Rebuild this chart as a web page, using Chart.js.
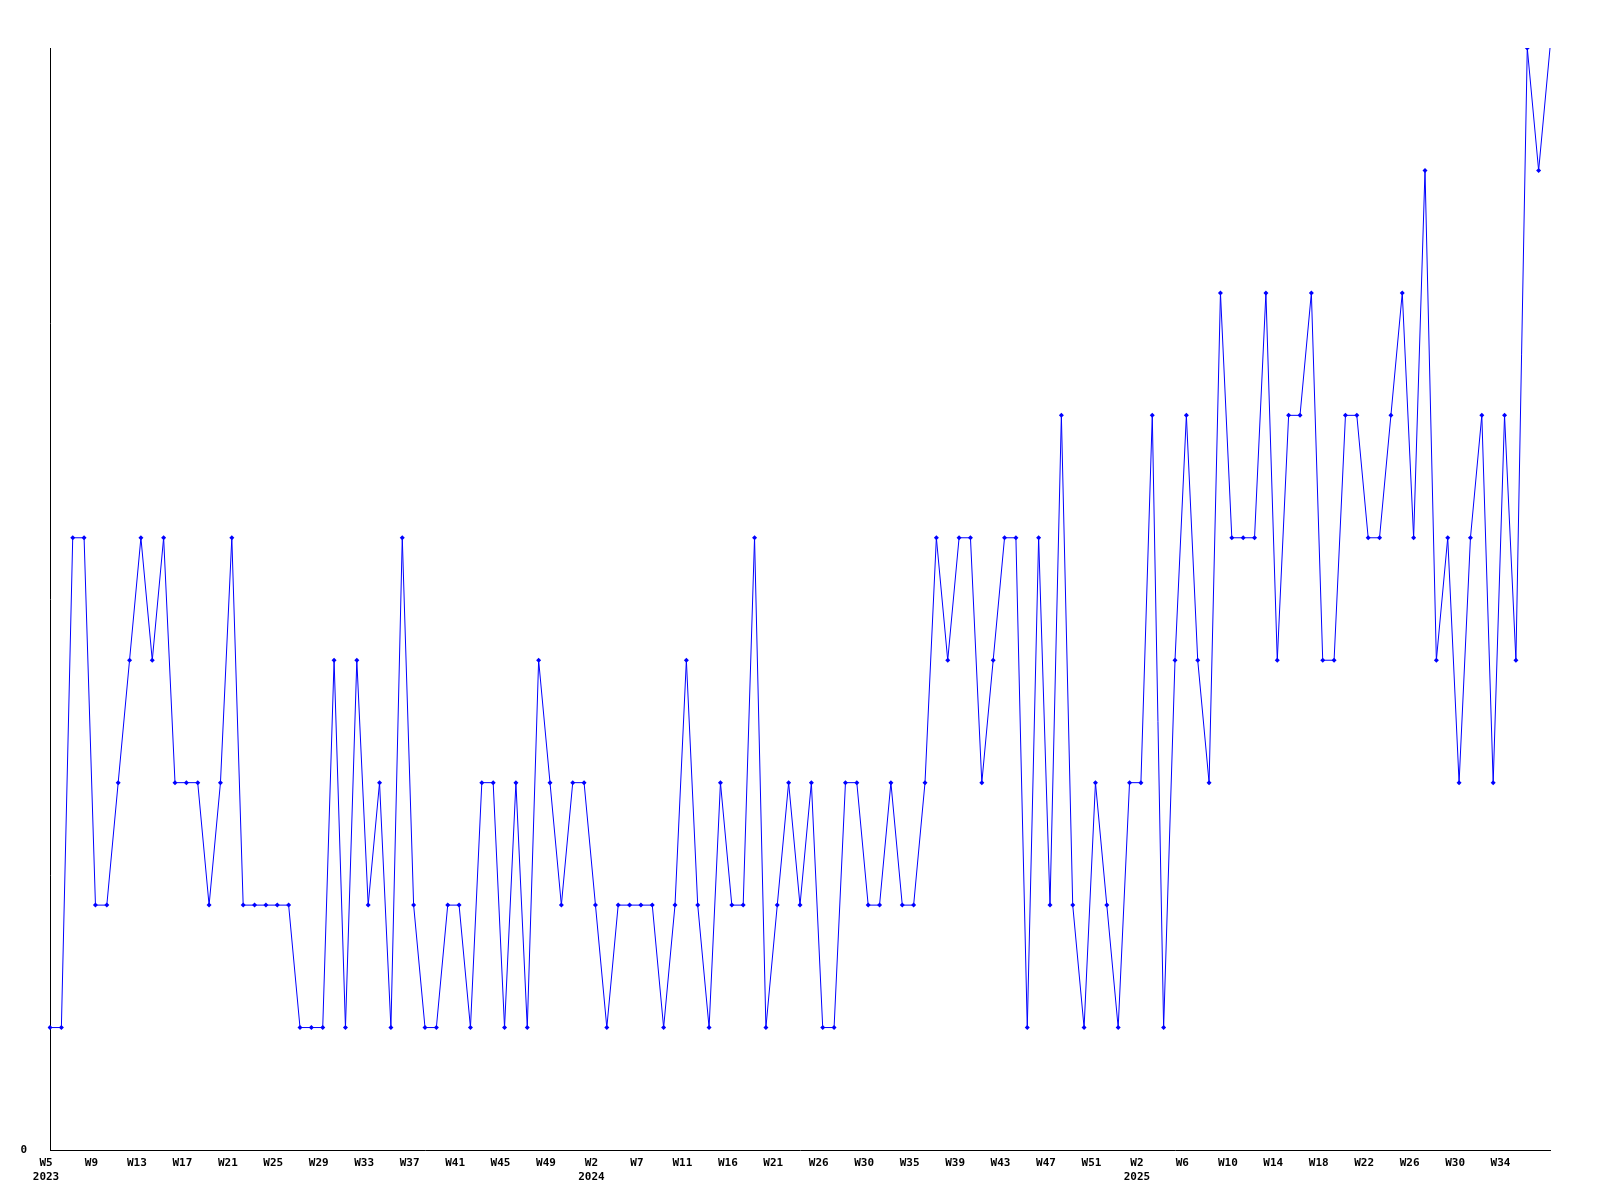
<!DOCTYPE html>
<html>
<head>
<meta charset="utf-8">
<script src="https://cdn.jsdelivr.net/npm/chart.js@4.4.1/dist/chart.umd.min.js"></script>
<style>
    body { margin: 0; background: #ffffff; }
    #wrap { width: 1600px; height: 1200px; }
</style>
</head>
<body>
<div id="wrap"><canvas id="weekChart"></canvas></div>
<script>
// one value per sample, 2023 W5 .. 2025 W36
var values = [
    1, 1, 5, 5, 2, 2, 3, 4, 5, 4, 5, 3, 3, 3, 2, 3, 5, 2, 2, 2, 2, 2, 1, 1, 1, 4, 1, 4, 2, 3, 1, 5, 2, 1, 1, 2,
    2, 1, 3, 3, 1, 3, 1, 4, 3, 2, 3, 3, 2, 1, 2, 2, 2, 2, 1, 2, 4, 2, 1, 3, 2, 2, 5, 1, 2, 3, 2, 3, 1, 1,
    3, 3, 2, 2, 3, 2, 2, 3, 5, 4, 5, 5, 3, 4, 5, 5, 1, 5, 2, 6, 2, 1, 3, 2, 1, 3, 3, 6, 1, 4, 6, 4, 3,
    7, 5, 5, 5, 7, 4, 6, 6, 7, 4, 4, 6, 6, 5, 5, 6, 7, 5, 8, 4, 5, 3, 5, 6, 3, 6, 4, 9, 8, 9
];

// a label is printed under every 4th sample
var tickLabels = ['W5', 'W9', 'W13', 'W17', 'W21', 'W25', 'W29', 'W33', 'W37', 'W41', 'W45', 'W49',
    'W2', 'W7', 'W11', 'W16', 'W21', 'W26', 'W30', 'W35', 'W39', 'W43', 'W47', 'W51',
    'W2', 'W6', 'W10', 'W14', 'W18', 'W22', 'W26', 'W30', 'W34'];
var yearAt = [0, 12, 24];
var years = ['2023', '2024', '2025'];
var tickEvery = 4;

var yMin = 0;
var yMax = 9;

// sample numbers as categories (empty strings broke the last point)
var categories = values.map((v, i) => i);

tickText = (index) => {
    if (index % tickEvery !== 0) return null;
    let k = index / tickEvery;
    let y = yearAt.indexOf(k);
    return y >= 0 ? [tickLabels[k], years[y]] : tickLabels[k];
};

var axisFont = { family: "'DejaVu Sans Mono', monospace", size: 11, weight: 'bold', lineHeight: 1.3 };

var weekChart = new Chart(document.getElementById('weekChart').getContext('2d'), {
    type: 'line',
    data: {
        labels: categories,
        datasets: [{
            data: values,
            borderColor: '#0000ff',
            backgroundColor: '#0000ff',
            borderWidth: 1,
            tension: 0,
            fill: false,
            pointStyle: 'rectRot',
            pointRadius: (ctx) => ctx.dataIndex === values.length - 1 ? 0 : 2.5,
            pointBorderWidth: 0,
            pointHoverRadius: 0
        }]
    },
    options: {
        responsive: true,
        maintainAspectRatio: false,
        animation: false,
        layout: { padding: { top: 48, right: 50, left: 0, bottom: 0 } },
        plugins: {
            legend: { display: false },
            tooltip: { enabled: false }
        },
        scales: {
            x: {
                offset: false,
                grid: { display: false, drawTicks: false },
                border: { display: true, color: '#000000', width: 1 },
                afterFit: (scale) => { scale.height = 50; },
                ticks: {
                    autoSkip: false,
                    maxRotation: 0,
                    minRotation: 0,
                    padding: 6,
                    labelOffset: -4,
                    color: '#000000',
                    font: axisFont,
                    callback: (value, index) => tickText(index)
                }
            },
            y: {
                min: yMin,
                max: yMax,
                grid: { display: false, drawTicks: false },
                border: { display: true, color: '#000000', width: 1 },
                afterFit: (scale) => { scale.width = 50; },
                afterBuildTicks: (scale) => { scale.ticks = [{ value: 0 }]; },
                ticks: {
                    padding: 23,
                    color: '#000000',
                    font: axisFont,
                    callback: (value) => String(value)
                }
            }
        }
    }
});
</script>
</body>
</html>
